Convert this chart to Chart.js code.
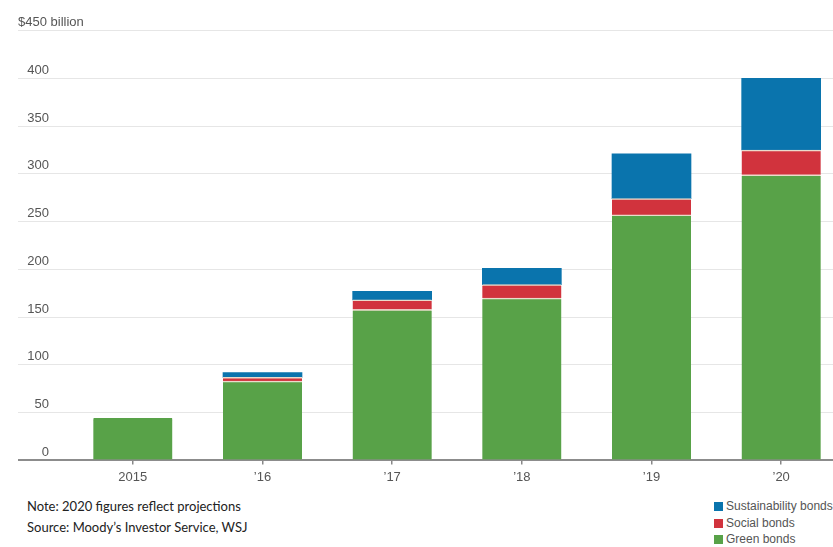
<!DOCTYPE html>
<html>
<head>
<meta charset="utf-8">
<script src="https://cdn.jsdelivr.net/npm/chart.js@4/dist/chart.umd.min.js"></script>
<style>
    body { margin: 0; background: #fff; overflow: hidden; }
    #wrap { position: relative; width: 833px; height: 547px; overflow: hidden; }
    #chartBox { position: absolute; left: 0; top: 0; width: 846px; height: 492px; }
    .notes { position: absolute; left: 27px; top: 496px; font-family: Lato, "Open Sans", sans-serif; font-size: 13px; color: #222; line-height: 21px; }
    .legend { position: absolute; left: 714px; top: 498px; font-family: "Liberation Sans", Arial, sans-serif; font-size: 12px; color: #555; line-height: 16.5px; white-space: nowrap; }
    .legend span.sq { display: inline-block; width: 9px; height: 9px; margin-right: 3px; vertical-align: -1px; }
</style>
</head>
<body>
<div id="wrap">
    <div id="chartBox"><canvas id="bondChart"></canvas></div>
    <div class="notes">
        <div>Note: 2020 figures reflect projections</div>
        <div>Source: Moody’s Investor Service, WSJ</div>
    </div>
    <div class="legend">
        <div><span class="sq" style="background:#0a74ad"></span>Sustainability bonds</div>
        <div><span class="sq" style="background:#d1333d"></span>Social bonds</div>
        <div><span class="sq" style="background:#58a248"></span>Green bonds</div>
    </div>
</div>
<script>
const years = ['2015', '’16', '’17', '’18', '’19', '’20'];
const greenBonds = [44, 83, 158, 170, 257, 299];
const socialBonds = [null, 4, 10, 14, 17, 26];
const sustainabilityBonds = [null, 5, 9, 17, 47, 75];
const yTicks = [0, 50, 100, 150, 200, 250, 300, 350, 400, 450];

const GREEN = '#58a248';
const RED = '#d1333d';
const BLUE = '#0a74ad';
const SEP = '#eadccb';
const FONT = "'Liberation Sans', Arial, sans-serif";

const ctx = document.getElementById('bondChart').getContext('2d');
const chart = new Chart(ctx, {
    type: 'bar',
    data: {
        labels: years,
        datasets: [{
            label: 'Green bonds',
            data: greenBonds,
            backgroundColor: GREEN,
            borderColor: (c) => socialBonds[c.dataIndex] ? SEP : GREEN,
            borderWidth: { top: 1.5 },
            borderSkipped: 'start',
            barThickness: 79
        }, {
            label: 'Social bonds',
            data: socialBonds,
            backgroundColor: RED,
            borderColor: SEP,
            borderWidth: { top: 1.5 },
            borderSkipped: 'start',
            barThickness: 79
        }, {
            label: 'Sustainability bonds',
            data: sustainabilityBonds,
            backgroundColor: BLUE,
            borderWidth: 0,
            barThickness: 79
        }]
    },
    options: {
        responsive: true,
        maintainAspectRatio: false,
        animation: false,
        layout: {
            padding: { left: 18, right: 0, top: 0, bottom: 2 }
        },
        plugins: {
            legend: { display: false },
            tooltip: { enabled: false },
            title: {
                display: true,
                text: '$450 billion',
                align: 'start',
                color: '#555',
                font: { family: FONT, size: 13, weight: 'normal' },
                padding: { top: 15, bottom: 0 }
            }
        },
        scales: {
            x: {
                stacked: true,
                border: { display: false },
                grid: {
                    display: true,
                    offset: false,
                    drawOnChartArea: false,
                    drawTicks: true,
                    tickLength: 4,
                    color: '#888',
                    lineWidth: 1.5
                },
                ticks: {
                    color: '#555',
                    padding: 5,
                    font: { family: FONT, size: 13 }
                }
            },
            y: {
                stacked: true,
                min: 0,
                max: 450,
                border: { display: false },
                afterFit: (scale) => { scale.width = 50; },
                afterBuildTicks: (scale) => { scale.ticks = yTicks.map(v => ({ value: v })); },
                grid: {
                    drawTicks: true,
                    tickLength: 50,
                    color: (c) => c.tick && c.tick.value === 0 ? '#8c8c8c' : '#e6e6e6',
                    lineWidth: (c) => c.tick && c.tick.value === 0 ? 2 : 1
                },
                ticks: {
                    crossAlign: 'near',
                    padding: -31,
                    labelOffset: -8,
                    color: '#555',
                    font: { family: FONT, size: 13 },
                    callback: (v) => v === 450 ? '' : v
                }
            }
        }
    }
});
</script>
</body>
</html>
